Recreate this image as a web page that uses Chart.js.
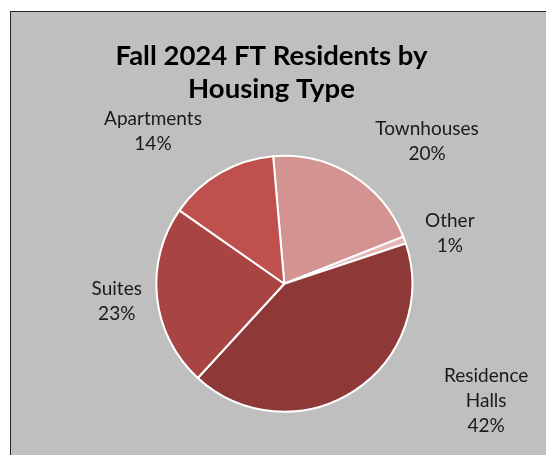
<!DOCTYPE html>
<html>
<head>
<meta charset="utf-8">
<script src="https://cdn.jsdelivr.net/npm/chart.js@4/dist/chart.umd.min.js"></script>
<style>
  html, body { margin: 0; padding: 0; background: #ffffff; }
  #frame {
    position: absolute; left: 10px; top: 11px; width: 540px; height: 450px;
    background: #bfbfbf; border-top: 1.5px solid #262626; border-left: 1.5px solid #262626;
  }
  #wrap { position: absolute; left: 0; top: 0; width: 546px; height: 455px; }
</style>
</head>
<body>
<div id="frame"></div>
<div id="wrap"><canvas id="c" width="546" height="455"></canvas></div>
<script>
// ---- data ----
const categories = ["Townhouses", "Other", "Residence Halls", "Suites", "Apartments"];
const labelLines = [["Townhouses"], ["Other"], ["Residence", "Halls"], ["Suites"], ["Apartments"]];
const shares = [20.4, 0.9, 41.9, 22.9, 13.9];
const titleLines = ["Fall 2024 FT Residents by", "Housing Type"];

// ---- styles / layout ----
const sliceColors = ["#d39391", "#e5b8b7", "#8e3937", "#a84542", "#c0504d"];
// label centre offsets, in multiples of the pie radius from the pie centre
const labelOffsets = [[1.115, -1.115], [1.293, -0.393], [1.577, 0.912], [-1.309, 0.135], [-1.026, -1.193]];

const labelPlugin = {
  id: 'excelLabels',
  afterDraw(chart) {
    const ctx = chart.ctx;
    ctx.save();
    // title
    ctx.fillStyle = '#000000';
    ctx.textAlign = 'center';
    ctx.textBaseline = 'middle';
    ctx.font = 'bold 27.5px Lato';
    ctx.fillText(titleLines[0], 271.5, 56);
    ctx.fillText(titleLines[1], 271.5, 89);
    // data labels
    const meta = chart.getDatasetMeta(0);
    const data = chart.data.datasets[0].data;
    const total = data.reduce((a, b) => a + b, 0);
    ctx.font = '19px Lato';
    ctx.fillStyle = '#1a1a1a';
    meta.data.forEach((arc, i) => {
      const r = arc.outerRadius;
      const cx = arc.x + labelOffsets[i][0] * r;
      const cy = arc.y + labelOffsets[i][1] * r;
      const lines = labelLines[i].concat([Math.round(data[i] / total * 100) + '%']);
      const lh = 25;
      const y0 = cy - (lines.length - 1) * lh / 2;
      lines.forEach((t, k) => ctx.fillText(t, cx, y0 + k * lh));
    });
    ctx.restore();
  }
};

new Chart(document.getElementById('c'), {
  type: 'pie',
  data: {
    labels: categories,
    datasets: [{
      data: shares,
      backgroundColor: sliceColors,
      borderColor: '#ffffff',
      borderWidth: 2
    }]
  },
  options: {
    responsive: false,
    animation: false,
    rotation: -5,
    radius: 128,
    layout: { padding: { left: 150, right: 127.4, top: 150, bottom: 37.6 } },
    plugins: { legend: { display: false }, tooltip: { enabled: false }, title: { display: false } }
  },
  plugins: [labelPlugin]
});
</script>
</body>
</html>
